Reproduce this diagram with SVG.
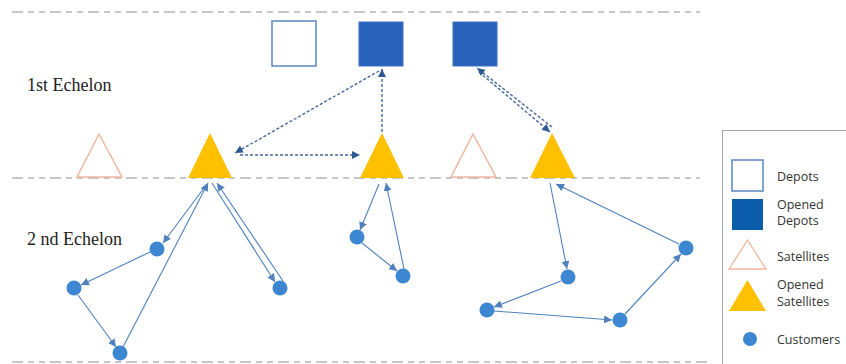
<svg xmlns="http://www.w3.org/2000/svg" width="846" height="364" viewBox="0 0 846 364">
  <defs>
    <style>
      .band { stroke: #b4b4b4; stroke-width: 1.3; stroke-dasharray: 11 5 6 5 6 5; fill: none; }
      .depot { fill: #ffffff; stroke: #5b87c2; stroke-width: 1.5; }
      .depot-open { fill: #2862bb; stroke: #3f73c0; stroke-width: 1; }
      .sat { fill: #ffffff; stroke: #efb79e; stroke-width: 1.5; }
      .sat-open { fill: #ffc000; }
      .cust { fill: #3c86d2; }
      .route { stroke: #4e81bd; stroke-width: 1.1; fill: none; marker-end: url(#tip); }
      .trunk { stroke: #44689c; stroke-width: 1.4; stroke-dasharray: 3 2; fill: none; marker-end: url(#tipDark); }
      .echelon { font-family: "Liberation Serif", "Times New Roman", serif; font-size: 18px; fill: #222222; }
      .key { font-family: "Open Sans", "Noto Sans", sans-serif; font-size: 12.5px; fill: #333333; }
    </style>
    <marker id="tip" markerUnits="userSpaceOnUse" markerWidth="9" markerHeight="8" refX="8" refY="4" orient="auto">
      <path d="M0,0 L8,4 L0,8 Z" fill="#4e81bd"/>
    </marker>
    <marker id="tipDark" markerUnits="userSpaceOnUse" markerWidth="9" markerHeight="8" refX="8" refY="4" orient="auto">
      <path d="M0,0 L8,4 L0,8 Z" fill="#2f5a94"/>
    </marker>
  </defs>

  <rect width="846" height="364" fill="#ffffff"/>

  <!-- echelon boundaries -->
  <g id="bands">
    <line class="band" x1="12" y1="12" x2="700" y2="12"/>
    <line class="band" x1="12" y1="178" x2="700" y2="178"/>
    <line class="band" x1="12" y1="362" x2="708" y2="362"/>
  </g>

  <text class="echelon" x="27" y="91">1st Echelon</text>
  <text class="echelon" x="27" y="245">2 nd Echelon</text>

  <!-- connectors -->
  <g id="connectors">
    <!-- first echelon: depot to satellite flows -->
    <line class="trunk" x1="379" y1="71" x2="235" y2="153"/>
    <line class="trunk" x1="382" y1="132" x2="382" y2="69"/>
    <line class="trunk" x1="240" y1="155" x2="360" y2="155"/>
    <line class="trunk" x1="479" y1="72" x2="550" y2="132"/>
    <line class="trunk" x1="552" y1="127" x2="477" y2="68"/>

    <!-- second echelon: route from satellite 1 -->
    <line class="route" x1="207" y1="184" x2="163" y2="243"/>
    <line class="route" x1="150" y1="252" x2="81" y2="285"/>
    <line class="route" x1="78" y1="295" x2="116" y2="347"/>
    <line class="route" x1="123" y1="347" x2="208" y2="183"/>
    <line class="route" x1="212" y1="183" x2="275" y2="282"/>
    <line class="route" x1="283" y1="281" x2="217" y2="183"/>

    <!-- route from satellite 2 -->
    <line class="route" x1="379" y1="184" x2="360" y2="230"/>
    <line class="route" x1="362" y1="243" x2="397" y2="271"/>
    <line class="route" x1="404" y1="269" x2="386" y2="183"/>

    <!-- route from satellite 3 -->
    <line class="route" x1="550" y1="183" x2="567" y2="269"/>
    <line class="route" x1="561" y1="281" x2="494" y2="307"/>
    <line class="route" x1="494" y1="311" x2="612" y2="320"/>
    <line class="route" x1="625" y1="314" x2="681" y2="254"/>
    <line class="route" x1="679" y1="244" x2="556" y2="184"/>
  </g>

  <!-- depots -->
  <g id="depot-1"><rect class="depot" x="272" y="21" width="44" height="45"/></g>
  <g id="depot-2"><rect class="depot-open" x="359" y="22" width="44" height="44"/></g>
  <g id="depot-3"><rect class="depot-open" x="453" y="22" width="44" height="44"/></g>

  <!-- satellites -->
  <g id="satellite-1"><polygon class="sat" points="99,134 122,177 77,177"/></g>
  <g id="satellite-2"><polygon class="sat-open" points="210,133 232,178 188,178"/></g>
  <g id="satellite-3"><polygon class="sat-open" points="382,133 404,178 360,178"/></g>
  <g id="satellite-4"><polygon class="sat" points="473,134 496,177 451,177"/></g>
  <g id="satellite-5"><polygon class="sat-open" points="552,133 575,178 530,178"/></g>

  <!-- customers -->
  <g id="customer-1"><circle class="cust" cx="157" cy="249" r="7.5"/></g>
  <g id="customer-2"><circle class="cust" cx="74" cy="288" r="7.5"/></g>
  <g id="customer-3"><circle class="cust" cx="120" cy="353" r="7.5"/></g>
  <g id="customer-4"><circle class="cust" cx="280" cy="288" r="7.5"/></g>
  <g id="customer-5"><circle class="cust" cx="357" cy="237" r="7.5"/></g>
  <g id="customer-6"><circle class="cust" cx="403" cy="276" r="7.5"/></g>
  <g id="customer-7"><circle class="cust" cx="568" cy="277" r="7.5"/></g>
  <g id="customer-8"><circle class="cust" cx="487" cy="310" r="7.5"/></g>
  <g id="customer-9"><circle class="cust" cx="620" cy="320" r="7.5"/></g>
  <g id="customer-10"><circle class="cust" cx="686" cy="248" r="7.5"/></g>

  <!-- legend -->
  <g id="legend">
    <rect x="722.5" y="130.5" width="140" height="250" fill="#ffffff" stroke="#a6a6a6" stroke-width="1"/>
    <rect x="732" y="160" width="31" height="31" fill="#ffffff" stroke="#5b87c2" stroke-width="1.5"/>
    <text class="key" x="777" y="181">Depots</text>
    <rect x="732" y="199" width="31" height="31" fill="#0b5cab"/>
    <text class="key" x="777" y="209">Opened</text>
    <text class="key" x="777" y="225">Depots</text>
    <polygon points="747.5,240 766,269 729,269" fill="#ffffff" stroke="#efb79e" stroke-width="1.3"/>
    <text class="key" x="777" y="261">Satellites</text>
    <polygon points="747.5,280 766,311 729,311" fill="#ffc000"/>
    <text class="key" x="777" y="289">Opened</text>
    <text class="key" x="777" y="306">Satellites</text>
    <circle cx="750" cy="339" r="7" fill="#3c86d2"/>
    <text class="key" x="777" y="344">Customers</text>
  </g>
</svg>
